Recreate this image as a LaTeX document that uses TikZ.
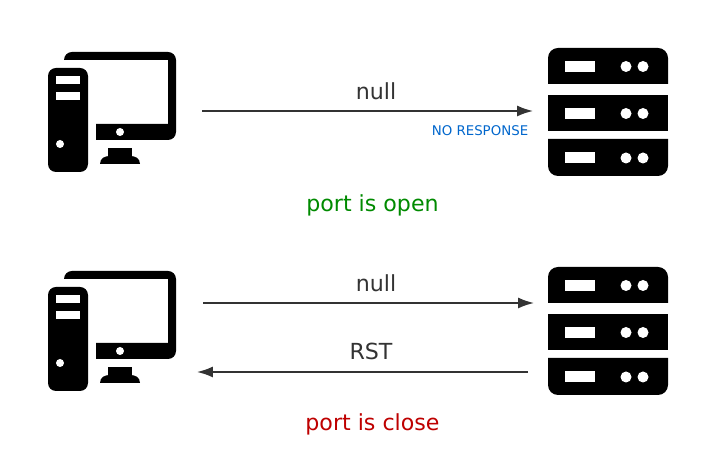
\documentclass[tikz,border=0pt]{standalone}
\usepackage{fontspec}
\setmainfont{DejaVu Sans}
\usetikzlibrary{arrows.meta}
\definecolor{linegray}{HTML}{333333}
\definecolor{opengreen}{HTML}{008A00}
\definecolor{closered}{HTML}{BE0000}
\definecolor{noteblue}{HTML}{0066CC}
\tikzset{
  msgline/.style={draw=linegray, line width=0.95pt, -{Latex[length=9pt,width=6.2pt]}},
  msglabel/.style={text=linegray, font=\fontsize{12.6}{15}\selectfont, inner sep=0pt},
  resultlabel/.style={font=\fontsize{12.6}{15}\selectfont, inner sep=0pt},
  desktop/.pic={
    % monitor
    \fill [black] (64,-60) arc (180:90:8) -- (168,-52) arc (90:0:8) -- (176,-132) arc (0:-90:8) -- (96,-140) -- (96,-124) -- (168,-124) -- (168,-60) -- cycle;
    \fill [white] (120,-132) circle (4);
    % stand
    \fill [black] (108,-148) rectangle (132,-156);
    \fill [black] (100,-164) .. controls (100,-158) and (105,-156) .. (110,-156) -- (130,-156) .. controls (135,-156) and (140,-158) .. (140,-164) -- cycle;
    % tower
    \fill [black, rounded corners=0.16cm] (48,-68) rectangle (88,-172);
    \fill [white] (56,-76) rectangle (80,-84);
    \fill [white] (56,-92) rectangle (80,-100);
    \fill [white] (60,-144) circle (4);
  },
  rack/.pic={
    \fill [black] (548,-84) -- (548,-58) arc (180:90:10) -- (658,-48) arc (90:0:10) -- (668,-84) -- cycle;
    \fill [black] (548,-95) rectangle (668,-131);
    \fill [black] (548,-139) -- (548,-166) arc (180:270:10) -- (658,-176) arc (270:360:10) -- (668,-139) -- cycle;
    \foreach \y/\h in {66.5/5.5, 113.5/5.5, 158/5.5} {
      \fill [white] (565,-\y+\h) rectangle (595,-\y-\h);
      \fill [white] (626,-\y) circle (\h);
      \fill [white] (643,-\y) circle (\h);
    }
  },
}
\begin{document}
\begin{tikzpicture}[x=0.02cm,y=0.02cm]
  \useasboundingbox (0,0) rectangle (704,-465);
  % open port
  \pic at (0,0) {desktop};
  \pic at (0,0) {rack};
  \coordinate (nullopenstart) at (202,-111);
  \coordinate (nullopenend) at (533,-111);
  \draw [msgline] (nullopenstart) -- (nullopenend);
  \node [msglabel] (nullopen) at (376,-91.5) {null};
  \node [inner sep=0pt, text=noteblue, font=\fontsize{7.6}{9}\selectfont] (noresponse) at (480,-131) {NO RESPONSE};
  \node [resultlabel, text=opengreen] (portopen) at (372.5,-205) {port is open};
  % closed port
  \pic at (0,-219) {desktop};
  \pic at (0,-219) {rack};
  \coordinate (nullclosestart) at (203,-303);
  \coordinate (nullcloseend) at (534,-303);
  \draw [msgline] (nullclosestart) -- (nullcloseend);
  \node [msglabel] (nullclose) at (376,-283.5) {null};
  \coordinate (rststart) at (528,-372);
  \coordinate (rstend) at (197,-372);
  \draw [msgline] (rststart) -- (rstend);
  \node [msglabel] (rst) at (371,-351.5) {RST};
  \node [resultlabel, text=closered] (portclose) at (372.5,-424) {port is close};
\end{tikzpicture}
\end{document}
